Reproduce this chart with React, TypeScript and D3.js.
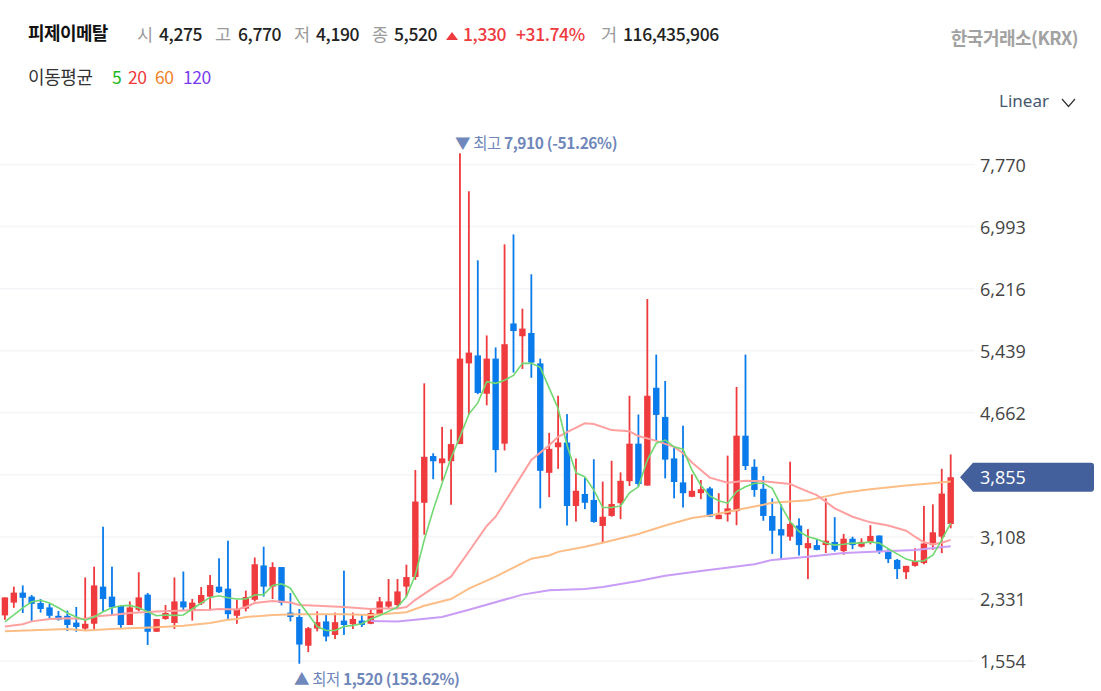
import * as d3 from "d3";

const WIDTH = 1101;
const HEIGHT = 691;

const opens = [2125,2285,2410,2360,2280,2225,2120,2120,2035,1960,2020,2485,2360,2245,2005,2195,2385,1920,2080,2030,2300,2185,2275,2360,2485,2460,2120,2210,2320,2750,2485,2730,2160,2105,1745,1960,2050,1880,2060,2015,2060,2020,2140,2235,2255,2485,2605,3535,4120,4030,4055,4270,5280,5380,4900,5340,4275,5780,5620,5660,5280,3910,4230,4290,3495,3645,3570,3245,3370,3530,3805,4275,3750,4975,4610,4090,3790,3610,3655,3715,3330,3390,3430,4375,3985,3710,3370,3205,3110,3250,2965,3005,3005,3045,2930,3085,2985,3045,3125,2925,2820,2665,2745,2780,3005,3110,3270];
const closes = [2350,2410,2345,2270,2205,2120,2070,2005,1980,2020,2500,2330,2225,2005,2225,2350,1920,2080,2155,2300,2225,2285,2380,2505,2415,2140,2205,2355,2765,2485,2730,2280,2105,1760,1965,2040,1860,2040,2005,2080,2005,2155,2300,2300,2425,2605,3550,4110,4055,4090,4270,5340,5415,4910,5340,4195,5520,5685,5715,5290,3935,4210,4290,3495,3685,3535,3295,3360,3520,3810,4275,3770,4875,4635,4075,3795,3655,3685,3705,3360,3385,3465,4375,3995,3695,3370,3185,3125,3270,3005,3030,2945,3060,2945,3085,3005,3045,3120,2930,2830,2705,2745,2805,3025,3165,3650,3855];
const highs = [2350,2485,2500,2380,2330,2270,2180,2185,2230,2600,2735,3235,2735,2245,2300,2665,2405,2080,2255,2600,2675,2330,2480,2630,2840,3060,2320,2435,2850,2985,2790,2730,2405,2205,1980,2175,2140,2160,2685,2160,2130,2205,2355,2580,2580,2760,3945,5030,4155,4485,4455,7910,7435,6570,5630,5480,6770,6895,5965,6395,5340,4410,4875,4645,4090,3850,4080,3800,4060,3915,4875,4640,6085,5390,5060,4235,4500,3890,3820,3735,3655,4125,4985,5390,4080,3870,3590,3515,4050,3340,3205,3080,3590,3355,3145,3110,3090,3255,3125,2955,2830,2745,2965,3495,3515,3960,4140];
const lows = [2070,2220,2155,2050,2160,2080,2060,1930,1920,1930,1955,2175,2130,1960,2005,2175,1755,1920,2070,1955,2180,2060,2255,2185,2405,2080,2020,2175,2300,2360,2330,2250,2050,1520,1665,1925,1800,1830,1880,1955,1980,2015,2130,2205,2205,2360,2570,3135,3830,3810,3510,4270,4640,4895,4755,3915,4190,5165,5210,5100,3465,3605,3960,3250,3300,3455,3285,3030,3360,3330,3745,3735,3750,4320,3840,3590,3475,3605,3580,3355,3330,3300,3255,3945,3610,3310,2895,2830,3060,2875,2580,2940,2905,2925,2885,2955,2975,3015,2895,2780,2580,2580,2735,2765,2945,2905,3215];

// moving averages
const ma5 = [2045,2130,2220,2295,2315,2280,2220,2155,2105,2065,2105,2170,2220,2245,2250,2220,2170,2120,2130,2125,2130,2205,2280,2350,2370,2345,2330,2330,2380,2385,2500,2520,2465,2285,2140,1985,1935,1935,1985,2000,2020,2080,2125,2175,2230,2360,2630,3070,3445,3780,4095,4360,4645,4785,5050,5030,5070,5130,5280,5280,5230,4970,4715,4255,3910,3860,3695,3475,3475,3495,3660,3735,4070,4280,4320,4235,4205,3945,3755,3620,3560,3530,3675,3735,3780,3780,3715,3495,3300,3175,3110,3080,3030,3005,3015,3030,3030,3045,3030,2960,2895,2830,2800,2810,2880,3070,3280];
const ma20Days = [0,2,3,5,7,9,10,12,14,17,20,23,24,26,27,28,30,32,33,35,38,41,42,44,45,46,48,50,52,54,55,57,59,61,62,63,65,66,68,70,71,73,75,76,77,79,81,83,85,88,90,91,93,95,97,99,101,102,103,104,105,106];
const ma20 = [1985,2015,2050,2080,2090,2080,2110,2130,2155,2175,2185,2195,2205,2200,2230,2280,2305,2285,2255,2245,2230,2205,2210,2210,2230,2320,2470,2610,2925,3245,3360,3715,4070,4255,4360,4420,4530,4520,4445,4430,4370,4310,4235,4155,4040,3850,3785,3810,3805,3770,3675,3630,3465,3360,3290,3250,3185,3110,3040,3015,3035,3070];
const ma60Days = [0,7,9,12,14,17,20,23,25,26,27,30,33,38,41,44,45,47,50,52,54,55,59,61,62,65,67,71,74,77,79,82,85,86,90,92,94,97,101,104,106];
const ma60 = [1925,1955,1935,1955,1965,1975,1995,2030,2070,2080,2105,2130,2140,2140,2130,2155,2165,2245,2330,2460,2560,2610,2835,2875,2920,2985,3035,3145,3250,3345,3375,3445,3510,3535,3565,3615,3660,3705,3750,3780,3800];
const ma120Days = [41,44,46,49,52,58,61,65,67,71,74,78,84,86,90,94,98,102,106];
const ma120 = [2055,2050,2070,2105,2195,2385,2440,2455,2480,2555,2620,2680,2765,2820,2860,2905,2925,2945,2990];

const priceTicks = [7770, 6993, 6216, 5439, 4662, 3885, 3108, 2331, 1554];
const lastPrice = 3855;

const UP = "#ef3a3e";
const DOWN = "#0a7bea";
const MA_COLORS = { ma5: "#72d872", ma20: "#ffa0a0", ma60: "#fdbd86", ma120: "#c99cf6" };
const NOTE = "#6f87ba";
const FONT = "'Noto Sans CJK KR', 'Noto Sans', sans-serif";

const headerItems = [
  { t: "시", x: 137, c: "#9a9a9a", w: 400 },
  { t: "4,275", x: 159, c: "#222", w: 500 },
  { t: "고", x: 215, c: "#9a9a9a", w: 400 },
  { t: "6,770", x: 238, c: "#222", w: 500 },
  { t: "저", x: 294, c: "#9a9a9a", w: 400 },
  { t: "4,190", x: 316, c: "#222", w: 500 },
  { t: "종", x: 372, c: "#9a9a9a", w: 400 },
  { t: "5,520", x: 394, c: "#222", w: 500 },
  { t: "1,330", x: 463, c: "#ef3a3e", w: 500 },
  { t: "+31.74%", x: 516, c: "#ef3a3e", w: 500 },
  { t: "거", x: 601, c: "#9a9a9a", w: 400 },
  { t: "116,435,906", x: 623, c: "#222", w: 500 },
];

const maLegend = [
  { t: "5", x: 112, c: "#1fb81f" },
  { t: "20", x: 128, c: "#f0383c" },
  { t: "60", x: 155, c: "#f08228" },
  { t: "120", x: 183, c: "#7a3cf0" },
];

export default function App() {
  const x = d3.scaleLinear().domain([0, opens.length - 1]).range([4.9, 950.7]);
  const y = d3.scaleLinear().domain([7770, 1554]).range([164.5, 661]);

  const daily = d3
    .line<number>()
    .x((_, i) => x(i))
    .y((d) => y(d));
  const sparse = (days: number[]) =>
    d3
      .line<number>()
      .x((_, i) => x(days[i]))
      .y((d) => y(d));

  const tagY = y(lastPrice);

  return (
    <svg
      width={WIDTH}
      height={HEIGHT}
      style={{ position: "absolute", left: 0, top: 0, background: "#fff" }}
      fontFamily={FONT}
    >
      {/* header */}
      <text x={28} y={40} fontSize={18} fontWeight={700} fill="#111" letterSpacing={-0.6}>
        피제이메탈
      </text>
      {headerItems.map((d) => (
        <text key={d.x} x={d.x} y={41} fontSize={17.5} fontWeight={d.w} fill={d.c} letterSpacing={-0.4}>
          {d.t}
        </text>
      ))}
      <path d="M446 40 L452 32 L458 40 Z" fill={UP} />
      <text x={1078} y={45} textAnchor="end" fontSize={18} fontWeight={700} fill="#a2a2a2" letterSpacing={-0.5}>
        한국거래소(KRX)
      </text>
      <text x={28} y={84} fontSize={18} fill="#333" letterSpacing={-0.4}>
        이동평균
      </text>
      {maLegend.map((d) => (
        <text key={d.x} x={d.x} y={84} fontSize={17.5} fill={d.c} letterSpacing={-0.4}>
          {d.t}
        </text>
      ))}
      <text x={999} y={107} fontSize={17} fill="#46586e" fontFamily="'Noto Sans', sans-serif">
        Linear
      </text>
      <path d="M1062 99 L1068.5 106.5 L1075 99" fill="none" stroke="#333" strokeWidth={1.2} />

      {/* grid */}
      {priceTicks.map((t) => (
        <line key={t} x1={0} x2={975} y1={y(t)} y2={y(t)} stroke="#f4f5f8" strokeWidth={1.5} />
      ))}

      {/* candles */}
      {opens.map((o, i) => {
        const c = closes[i];
        const color = c >= o ? UP : DOWN;
        const top = y(Math.max(o, c));
        const bottom = y(Math.min(o, c));
        return (
          <g key={i} fill={color}>
            <rect x={x(i) - 0.9} width={1.8} y={y(highs[i])} height={y(lows[i]) - y(highs[i])} />
            <rect x={x(i) - 3.2} width={6.4} y={top} height={Math.max(bottom - top, 1)} />
          </g>
        );
      })}

      {/* moving averages */}
      <path d={sparse(ma120Days)(ma120) ?? ""} fill="none" stroke={MA_COLORS.ma120} strokeWidth={2} />
      <path d={sparse(ma60Days)(ma60) ?? ""} fill="none" stroke={MA_COLORS.ma60} strokeWidth={2} />
      <path d={sparse(ma20Days)(ma20) ?? ""} fill="none" stroke={MA_COLORS.ma20} strokeWidth={2} />
      <path d={daily(ma5) ?? ""} fill="none" stroke={MA_COLORS.ma5} strokeWidth={1.6} />

      {/* high and low notes */}
      <text x={455} y={149} fontSize={15.5} fill={NOTE} letterSpacing={-0.4}>
        ▼ 최고 <tspan fontWeight={700}>7,910 (-51.26%)</tspan>
      </text>
      <text x={294} y={685} fontSize={15.5} fill={NOTE} letterSpacing={-0.4}>
        ▲ 최저 <tspan fontWeight={700}>1,520 (153.62%)</tspan>
      </text>

      {/* price axis */}
      {priceTicks
        .filter((t) => t !== 3885)
        .map((t) => (
          <text key={t} x={980} y={y(t) + 7} fontSize={18} fill="#444" fontFamily="'Open Sans', sans-serif">
            {d3.format(",")(t)}
          </text>
        ))}
      <path
        d={`M960 ${tagY} L973 ${tagY - 14.5} H1091 Q1094 ${tagY - 14.5} 1094 ${tagY - 11.5} V${tagY + 11.5} Q1094 ${tagY + 14.5} 1091 ${tagY + 14.5} H973 Z`}
        fill="#44609c"
      />
      <text x={980} y={tagY + 7} fontSize={18} fill="#fff" fontFamily="'Open Sans', sans-serif">
        {d3.format(",")(lastPrice)}
      </text>
    </svg>
  );
}
